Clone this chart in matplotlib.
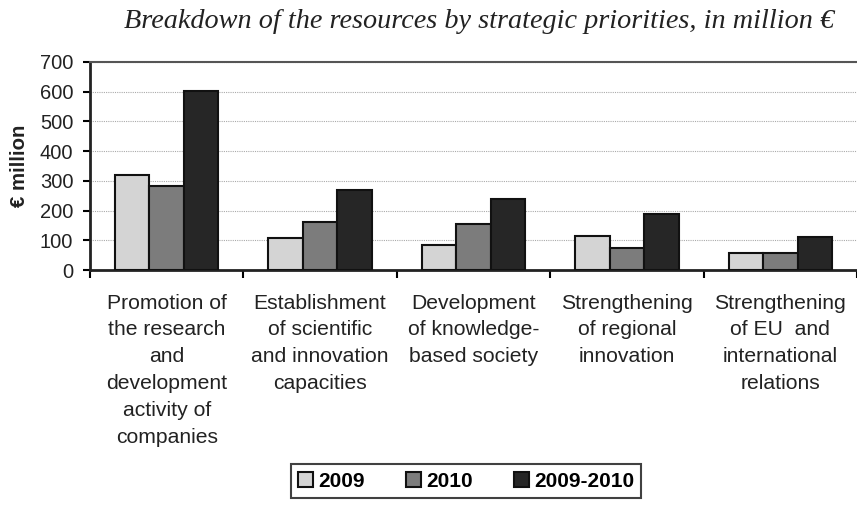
import numpy as np
import matplotlib.pyplot as plt

categories = ["Promotion of\nthe research\nand\ndevelopment\nactivity of\ncompanies",
              "Establishment\nof scientific\nand innovation\ncapacities",
              "Development\nof knowledge-\nbased society",
              "Strengthening\nof regional\ninnovation",
              "Strengthening\nof EU  and\ninternational\nrelations"]
v2009 = [320, 107, 84, 115, 56]
v2010 = [284, 161, 154, 75, 56]
v2009_2010 = [603, 269, 239, 190, 112]
series_names = ["2009", "2010", "2009-2010"]
colors = ["#d4d4d4", "#7c7c7c", "#262626"]

plt.rcParams['font.family'] = ['Liberation Sans', 'DejaVu Sans']

fig = plt.figure(figsize=(8.57, 5.11), dpi=100)
ax = fig.add_axes([90/857, 1-270/511, 767/857, 208/511])

x = np.arange(len(categories))
w = 0.225
for i, (vals, name, c) in enumerate(zip([v2009, v2010, v2009_2010], series_names, colors)):
    ax.bar(x + (i-1)*w, vals, width=w, color=c, edgecolor="#111111", linewidth=1.5, label=name, zorder=3)

ax.set_xlim(-0.5, len(categories)-0.5)
ax.set_ylim(0, 700)
ax.set_yticks(range(0, 701, 100))
ax.tick_params(axis='y', labelsize=14.5, length=5, width=1.5, pad=7, labelcolor="#222222")
ax.yaxis.grid(True, linestyle=(0, (1, 1)), color="#aaaaaa", linewidth=0.8, zorder=0)

ax.set_xticks(x)
ax.set_xticklabels(categories, fontsize=15.2, linespacing=1.52, va='top', color="#222222")
ax.tick_params(axis='x', length=0, pad=17)
ax.set_xticks(np.arange(-0.5, len(categories)), minor=True)
ax.tick_params(axis='x', which='minor', length=6, width=1.5)

for s in ["left", "bottom"]:
    ax.spines[s].set_linewidth(2)
    ax.spines[s].set_color("#222222")
ax.spines["top"].set_linewidth(1.5)
ax.spines["top"].set_color("#555555")
ax.spines["right"].set_visible(False)

ax.set_ylabel("€ million", fontsize=14.7, fontweight='bold', labelpad=8, color="#222222")

fig.text(479/857, 1-21/511, "Breakdown of the resources by strategic priorities, in million €",
         ha='center', va='center', fontsize=20.3, style='italic', family='Liberation Serif', color="#222222")

leg = fig.legend(loc='center', bbox_to_anchor=(466/857, 1-481/511), ncol=3, frameon=True,
                 prop={'weight': 'bold', 'size': 15}, handlelength=0.7, handleheight=0.7,
                 handletextpad=0.25, columnspacing=2.0, fancybox=False, borderpad=0.35)
leg.get_frame().set_edgecolor("#111111")
leg.get_frame().set_linewidth(1.5)

fig.savefig("out.png", dpi=100)
